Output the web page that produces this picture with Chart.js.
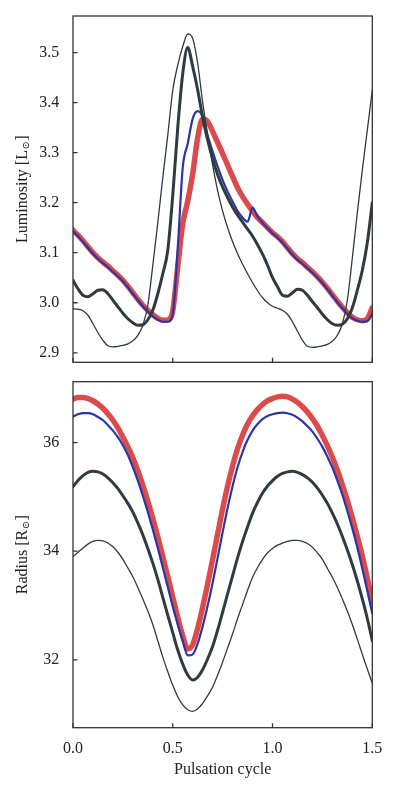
<!DOCTYPE html>
<html>
<head>
<meta charset="utf-8">
<script src="https://cdn.jsdelivr.net/npm/chart.js@4/dist/chart.umd.min.js"></script>
<style>
  html, body { margin: 0; padding: 0; background: #fff; }
  #wrap { position: relative; width: 399px; height: 797px; }
  #lumCanvas { position: absolute; left: 0; top: 0; }
  #radCanvas { position: absolute; left: 0; top: 370px; }
</style>
</head>
<body>
<div id="wrap">
  <canvas id="lumCanvas" width="399" height="370"></canvas>
  <canvas id="radCanvas" width="399" height="427"></canvas>
</div>
<script>
// pulsation phase grid
const phase = [0.000,0.025,0.050,0.075,0.100,0.125,0.150,0.175,0.200,0.225,
  0.250,0.275,0.300,0.325,0.350,0.375,0.400,0.425,0.450,0.475,
  0.500,0.525,0.550,0.575,0.600,0.625,0.650,0.675,0.700,0.725,
  0.750,0.775,0.800,0.825,0.850,0.875,0.900,0.925,0.950,0.975,
  1.000,1.025,1.050,1.075,1.100,1.125,1.150,1.175,1.200,1.225,
  1.250,1.275,1.300,1.325,1.350,1.375,1.400,1.425,1.450,1.475,1.500];

// luminosity (top panel)
const lumRed = [3.145,3.135,3.124,3.112,3.100,3.090,3.081,3.073,3.064,3.055,
  3.045,3.033,3.020,3.007,2.995,2.985,2.976,2.969,2.965,2.966,
  2.984,3.072,3.158,3.203,3.258,3.330,3.367,3.362,3.342,3.320,
  3.298,3.275,3.252,3.230,3.212,3.197,3.183,3.170,3.160,3.150,
  3.140,3.132,3.122,3.110,3.098,3.088,3.080,3.071,3.062,3.052,
  3.041,3.029,3.016,3.003,2.991,2.980,2.971,2.966,2.964,2.968,2.990];
const lumBlue = [3.143,3.133,3.122,3.110,3.098,3.088,3.079,3.071,3.062,3.053,
  3.043,3.031,3.018,3.005,2.993,2.982,2.973,2.966,2.962,2.962,
  2.978,3.110,3.270,3.318,3.368,3.383,3.372,3.334,3.302,3.272,
  3.245,3.222,3.202,3.183,3.170,3.162,3.190,3.172,3.160,3.149,
  3.139,3.130,3.120,3.108,3.096,3.086,3.078,3.069,3.060,3.050,
  3.039,3.027,3.014,3.001,2.989,2.978,2.969,2.964,2.962,2.963,2.978];
const lumThick = [3.045,3.028,3.015,3.012,3.018,3.025,3.026,3.018,3.005,2.992,
  2.979,2.968,2.960,2.955,2.956,2.966,2.985,3.018,3.058,3.105,
  3.215,3.350,3.458,3.510,3.472,3.425,3.370,3.325,3.287,3.256,
  3.231,3.210,3.191,3.175,3.161,3.147,3.133,3.116,3.097,3.075,
  3.050,3.032,3.015,3.013,3.020,3.027,3.025,3.015,3.002,2.990,
  2.977,2.966,2.958,2.955,2.957,2.968,2.990,3.025,3.065,3.120,3.200];
const lumThin = [2.988,2.987,2.984,2.975,2.958,2.940,2.925,2.914,2.912,2.913,
  2.915,2.918,2.924,2.935,2.955,2.995,3.075,3.160,3.250,3.335,
  3.425,3.475,3.512,3.537,3.528,3.478,3.400,3.335,3.275,3.224,
  3.183,3.150,3.122,3.098,3.077,3.058,3.040,3.024,3.010,3.000,
  2.993,2.989,2.985,2.977,2.962,2.943,2.925,2.913,2.911,2.912,
  2.914,2.917,2.923,2.935,2.958,3.005,3.090,3.180,3.265,3.345,3.425];

// radius (bottom panel)
const radRed = [36.80,36.83,36.83,36.81,36.77,36.71,36.63,36.53,36.41,36.27,
  36.10,35.92,35.72,35.48,35.21,34.92,34.60,34.26,33.90,33.53,
  33.15,32.78,32.44,32.20,32.28,32.58,32.97,33.40,33.85,34.32,
  34.78,35.20,35.57,35.89,36.14,36.34,36.49,36.61,36.70,36.77,
  36.81,36.84,36.85,36.84,36.80,36.74,36.66,36.56,36.44,36.30,
  36.13,35.94,35.73,35.49,35.22,34.93,34.61,34.27,33.91,33.50,33.05];
const radBlue = [36.48,36.52,36.54,36.54,36.52,36.47,36.41,36.32,36.22,36.10,
  35.95,35.77,35.55,35.30,35.02,34.72,34.40,34.06,33.70,33.34,
  32.98,32.65,32.35,32.08,32.10,32.30,32.62,33.00,33.42,33.88,
  34.35,34.80,35.20,35.55,35.83,36.05,36.22,36.34,36.43,36.49,
  36.52,36.54,36.55,36.54,36.51,36.46,36.39,36.30,36.20,36.07,
  35.92,35.74,35.54,35.30,35.04,34.74,34.42,34.07,33.68,33.27,32.85];
const radThick = [35.19,35.30,35.39,35.45,35.47,35.46,35.42,35.35,35.26,35.15,
  35.02,34.88,34.72,34.52,34.30,34.05,33.78,33.48,33.15,32.82,
  32.50,32.18,31.92,31.72,31.63,31.68,31.82,32.02,32.25,32.55,
  32.88,33.22,33.55,33.88,34.18,34.45,34.70,34.90,35.07,35.20,
  35.30,35.38,35.43,35.46,35.47,35.45,35.41,35.35,35.27,35.16,
  35.03,34.88,34.70,34.50,34.27,34.02,33.75,33.45,33.12,32.76,32.35];
const radThin = [33.90,33.98,34.06,34.13,34.18,34.20,34.19,34.15,34.08,33.98,
  33.85,33.69,33.53,33.33,33.12,32.90,32.65,32.35,32.05,31.78,
  31.53,31.32,31.17,31.08,31.05,31.10,31.20,31.34,31.50,31.72,
  31.96,32.22,32.48,32.76,33.02,33.28,33.52,33.70,33.85,33.97,
  34.05,34.11,34.15,34.18,34.20,34.20,34.18,34.14,34.07,33.97,
  33.85,33.68,33.52,33.33,33.12,32.90,32.65,32.38,32.10,31.83,31.57];

// ticks
const xTicks = [0, 0.5, 1.0, 1.5];
const lumTicks = [2.9, 3.0, 3.1, 3.2, 3.3, 3.4, 3.5];
const radTicks = [32, 34, 36];

const RED = '#dc4b4b', BLUE = '#2b35a8', DARK = '#2f3b40', FRAME = '#333333';
const FONT = "'Liberation Serif', 'DejaVu Serif', serif";

Chart.defaults.font.family = FONT;
Chart.defaults.font.size = 16;
Chart.defaults.color = '#222';

function pts(arr) {
  return phase.map((p, i) => ({x: p, y: arr[i]}));
}

function makeSets(red, blue, thick, thin) {
  // first dataset is drawn on top
  return [
    {data: pts(thin), borderColor: DARK, borderWidth: 1.3},
    {data: pts(thick), borderColor: DARK, borderWidth: 3},
    {data: pts(blue), borderColor: BLUE, borderWidth: 2.2},
    {data: pts(red), borderColor: RED, borderWidth: 5.5}
  ];
}

// frame box, inward tick marks and the y title with a subscript sun symbol
const framePlugin = {
  id: 'frame',
  afterDatasetsDraw(chart, args, opts) {
    const {ctx, chartArea: a, scales} = chart;
    ctx.save();
    ctx.strokeStyle = FRAME;
    ctx.lineWidth = 1.3;
    ctx.strokeRect(a.left, a.top, a.right - a.left, a.bottom - a.top);
    ctx.beginPath();
    scales.y.ticks.forEach(t => {
      const py = scales.y.getPixelForValue(t.value);
      ctx.moveTo(a.left, py);
      ctx.lineTo(a.left + 4.5, py);
    });
    scales.x.ticks.forEach(t => {
      const px = scales.x.getPixelForValue(t.value);
      ctx.moveTo(px, a.bottom);
      ctx.lineTo(px, a.bottom - 4.5);
    });
    ctx.stroke();

    // y title
    const [head, sub, tail] = opts.title;
    ctx.fillStyle = '#222';
    ctx.textBaseline = 'middle';
    ctx.textAlign = 'left';
    ctx.translate(22.5, (a.top + a.bottom) / 2);
    ctx.rotate(-Math.PI / 2);
    ctx.font = '16px ' + FONT;
    const w1 = ctx.measureText(head).width;
    const w3 = ctx.measureText(tail).width;
    ctx.font = '10px ' + FONT;
    const w2 = ctx.measureText(sub).width;
    let x = -(w1 + w2 + w3 + 1) / 2;
    ctx.font = '16px ' + FONT;
    ctx.fillText(head, x, 0);
    x += w1;
    ctx.font = '10px ' + FONT;
    ctx.fillText(sub, x + 0.5, 4);
    x += w2 + 1;
    ctx.font = '16px ' + FONT;
    ctx.fillText(tail, x, 0);
    ctx.restore();
  }
};

function makeChart(id, sets, yMin, yMax, yTicks, yTitle, yFmt, xHeight, pad) {
  return new Chart(document.getElementById(id).getContext('2d'), {
    type: 'line',
    data: {datasets: sets},
    options: {
      responsive: false,
      animation: false,
      devicePixelRatio: 1,
      layout: {padding: pad},
      elements: {
        point: {radius: 0},
        line: {cubicInterpolationMode: 'monotone', borderCapStyle: 'round', borderJoinStyle: 'round'}
      },
      plugins: {legend: {display: false}, tooltip: {enabled: false}, frame: {title: yTitle}},
      scales: {
        x: {
          type: 'linear',
          min: 0,
          max: 1.5,
          display: xHeight > 0,
          afterBuildTicks: s => { s.ticks = xTicks.map(v => ({value: v})); },
          afterFit: s => { s.height = xHeight; s.paddingLeft = 0; s.paddingRight = 0; },
          grid: {display: false, drawTicks: false},
          border: {display: false},
          ticks: {padding: 11, callback: v => v.toFixed(1)},
          title: {display: true, text: 'Pulsation cycle', padding: {top: 0, bottom: 17.4}}
        },
        y: {
          type: 'linear',
          min: yMin,
          max: yMax,
          afterBuildTicks: s => { s.ticks = yTicks.map(v => ({value: v})); },
          afterFit: s => { s.width = 73; s.paddingTop = 0; s.paddingBottom = 0; },
          grid: {display: false, drawTicks: false},
          border: {display: false},
          ticks: {padding: 13.7, callback: yFmt},
          title: {display: false}
        }
      }
    },
    plugins: [framePlugin]
  });
}

makeChart('lumCanvas', makeSets(lumRed, lumBlue, lumThick, lumThin),
  2.881, 3.573, lumTicks, ['Luminosity [L', '\u2299', ']'], v => v.toFixed(1), 0,
  {top: 16, right: 26.7, bottom: 7.7, left: 0});

makeChart('radCanvas', makeSets(radRed, radBlue, radThick, radThin),
  30.75, 37.12, radTicks, ['Radius [R', '\u2299', ']'], v => String(v), 69.3,
  {top: 11.7, right: 26.7, bottom: 0, left: 0});
</script>
</body>
</html>
